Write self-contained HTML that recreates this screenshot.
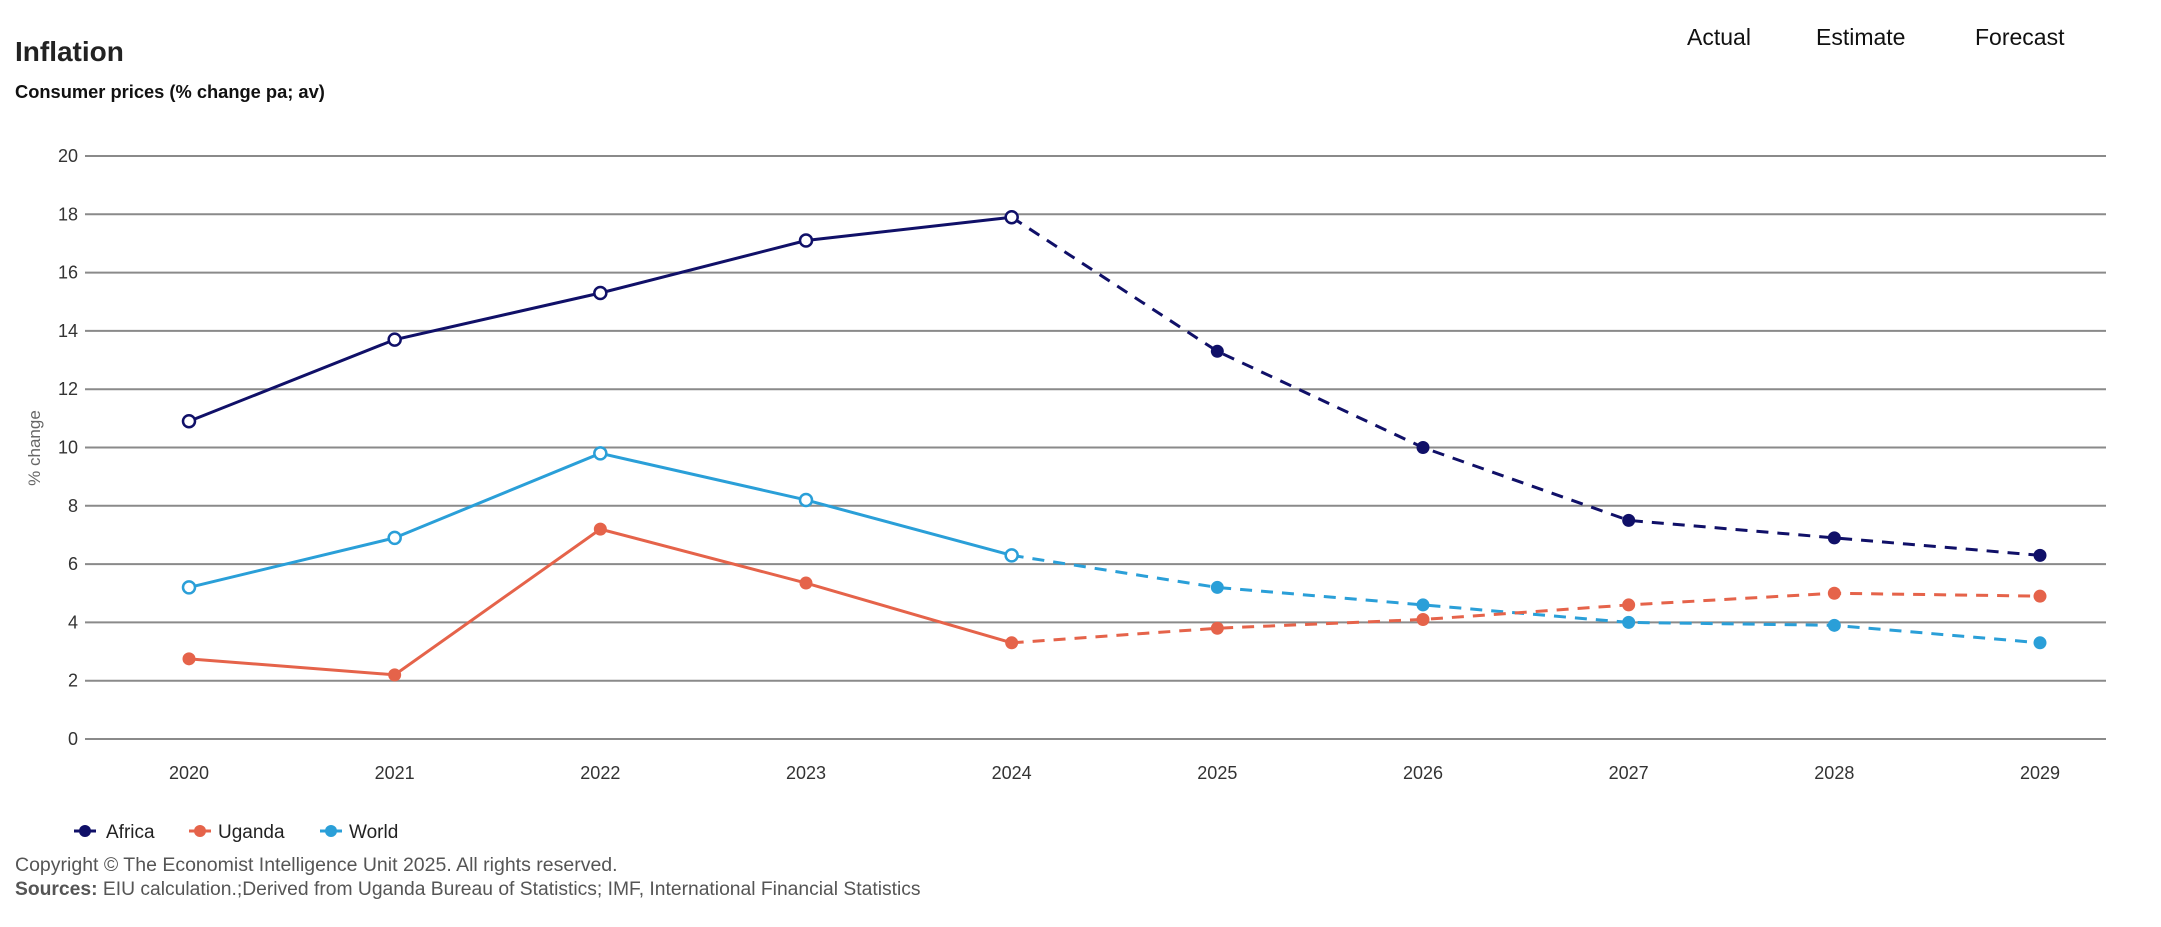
<!DOCTYPE html>
<html><head><meta charset="utf-8">
<style>
html,body{margin:0;padding:0;background:#fff;}
body{width:2161px;height:927px;overflow:hidden;position:relative;font-family:"Liberation Sans",sans-serif;}
svg{position:absolute;left:0;top:0;}
</style></head>
<body>
<svg id="chart" width="2161" height="927">
  <text x="15" y="61" font-size="28" font-weight="bold" fill="#222">Inflation</text>
  <text x="15" y="98" font-size="18.3" font-weight="bold" fill="#111">Consumer prices (% change pa; av)</text>
  <text x="1687" y="45" font-size="23" fill="#111">Actual</text>
  <text x="1816" y="45" font-size="23" fill="#111">Estimate</text>
  <text x="1975" y="45" font-size="23" fill="#111">Forecast</text>
  <text transform="translate(40,448) rotate(-90)" text-anchor="middle" font-size="17" fill="#666">% change</text>
  <g id="grid"></g><g id="series"></g>
  <g>
    <g><line x1="74" y1="831" x2="96" y2="831" stroke="#101068" stroke-width="3"/><circle cx="85" cy="831" r="6" fill="#101068"/><text x="106" y="838" font-size="19" fill="#222">Africa</text></g>
    <g><line x1="189" y1="831" x2="211" y2="831" stroke="#e5634a" stroke-width="3"/><circle cx="200" cy="831" r="6" fill="#e5634a"/><text x="218" y="838" font-size="19" fill="#222">Uganda</text></g>
    <g><line x1="320" y1="831" x2="342" y2="831" stroke="#2a9fd8" stroke-width="3"/><circle cx="331" cy="831" r="6" fill="#2a9fd8"/><text x="349" y="838" font-size="19" fill="#222">World</text></g>
  </g>
  <text x="15" y="871" font-size="19.5" fill="#555">Copyright © The Economist Intelligence Unit 2025. All rights reserved.</text>
  <text x="15" y="895" font-size="19.3" fill="#555"><tspan font-weight="bold">Sources:</tspan> EIU calculation.;Derived from Uganda Bureau of Statistics; IMF, International Financial Statistics</text>
</svg>
<script>
const years = ["2020","2021","2022","2023","2024","2025","2026","2027","2028","2029"];
const yTicks = [0,2,4,6,8,10,12,14,16,18,20];
const africa = [10.9,13.7,15.3,17.1,17.9,13.3,10.0,7.5,6.9,6.3];
const uganda = [2.75,2.2,7.2,5.35,3.3,3.8,4.1,4.6,5.0,4.9];
const world = [5.2,6.9,9.8,8.2,6.3,5.2,4.6,4.0,3.9,3.3];
const lastActual = 4;

const NS="http://www.w3.org/2000/svg";
const X0=189, X1=2040, Y0=739, Y20=156, GL=85, GR=2106;
function xs(i){return X0+(X1-X0)*i/(years.length-1);}
function ys(v){return Y0-(Y0-Y20)*v/20;}
function mk(tag,attrs,parent){const e=document.createElementNS(NS,tag);for(const k in attrs)e.setAttribute(k,attrs[k]);parent.appendChild(e);return e;}
const grid=document.getElementById('grid');
yTicks.forEach(t=>{
  const l=mk('line',{x1:GL,x2:GR,y1:ys(t),y2:ys(t),stroke:'#8a8a8a','stroke-width':2},grid);
  
  
  const tx=mk('text',{x:78,y:ys(t)+6,'text-anchor':'end','font-size':18,fill:'#333'},grid);
  tx.textContent=t;
  
  
});
years.forEach((y,i)=>{
  const tx=mk('text',{x:xs(i),y:779,'text-anchor':'middle','font-size':18,fill:'#333'},grid);
  tx.textContent=y;
  
  
});
const ser=document.getElementById('series');
[['world',world,'#2a9fd8',true],['uganda',uganda,'#e5634a',false],['africa',africa,'#101068',true]].forEach(([name,vals,col,hollow])=>{
  const g=mk('g',{},ser);
  
  
  let a='',f='';
  vals.forEach((v,i)=>{const p=xs(i)+','+ys(v); if(i<=lastActual)a+=(i?' ':'')+p; if(i>=lastActual)f+=(i>lastActual?' ':'')+p;});
  const pa=mk('polyline',{points:a,fill:'none',stroke:col,'stroke-width':3},g);
  
  
  const pf=mk('polyline',{points:f,fill:'none',stroke:col,'stroke-width':3,'stroke-dasharray':'12 9'},g);
  
  
  vals.forEach((v,i)=>{
    const c=(i<=lastActual&&hollow)?mk('circle',{cx:xs(i),cy:ys(v),r:6,fill:'#fff',stroke:col,'stroke-width':2.5},g):mk('circle',{cx:xs(i),cy:ys(v),r:6.5,fill:col},g);
    
    
  });
});
</script>
</body></html>
